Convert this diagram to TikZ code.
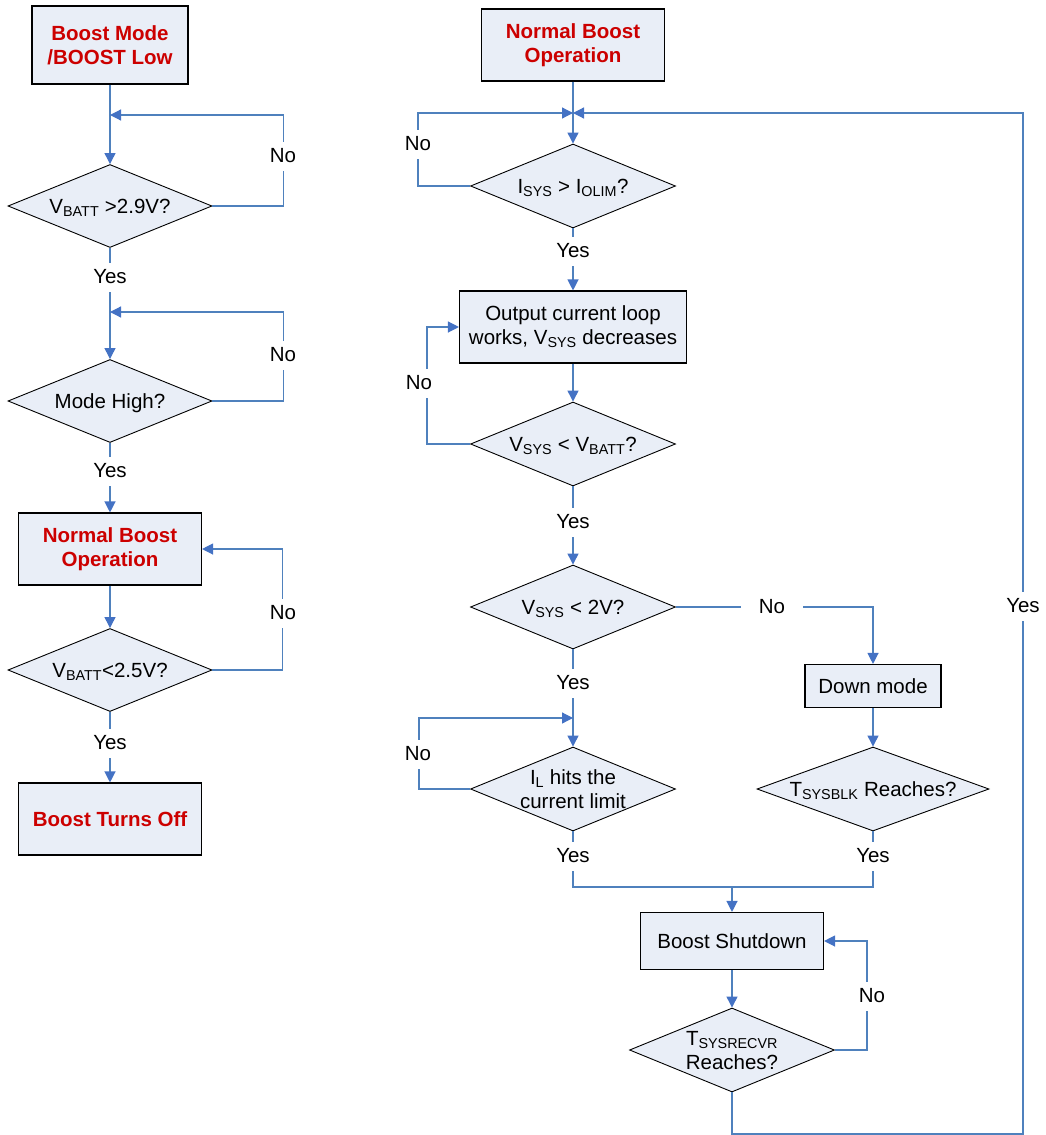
\documentclass[tikz,border=0pt]{standalone}
\usepackage{fontspec}
\setmainfont{Liberation Sans}
\usetikzlibrary{shapes.geometric, arrows.meta}
\definecolor{boxfill}{RGB}{233,238,247}
\definecolor{lineblue}{RGB}{79,129,189}
\definecolor{tipblue}{RGB}{68,114,196}
\definecolor{titlered}{RGB}{204,0,0}
\newcommand{\txt}{\fontsize{20.5}{24}\selectfont}
\newcommand{\dq}[1]{\makebox[0pt]{\raisebox{-7.5pt}[0pt][0pt]{\begin{tabular}{@{}c@{}}#1\end{tabular}}}}
\tikzset{
    proc/.style={rectangle, draw=black, fill=boxfill, line width=1.1pt, inner sep=0pt, align=center, font=\txt},
    hdr/.style={proc, text=titlered, font={\txt\bfseries}},
    cond/.style={diamond, draw=black, fill=boxfill, line width=0.9pt, inner sep=0pt, minimum width=205pt, minimum height=84pt, font=\txt},
    flow/.style={draw=lineblue, line width=1.2pt, -{Triangle[length=11pt, width=11pt, color=tipblue]}},
    link/.style={draw=lineblue, line width=1.2pt},
    lbl/.style={fill=white, inner sep=0pt, minimum width=62pt, minimum height=29pt, font=\txt}
}

\begin{document}
\begin{tikzpicture}[x=1pt, y=-1pt]
    \useasboundingbox (0,0) rectangle (1045,1135);
    % left column
    \node[hdr, minimum width=156pt, minimum height=78pt] (bm) at (110,45) {Boost Mode\\/BOOST Low};
    \node[cond, minimum width=204pt, minimum height=83pt] (q1) at (110,206) {\dq{V\textsubscript{BATT} >2.9V?}};
    \node[cond, minimum width=204pt, minimum height=83pt] (q2) at (110,401) {\dq{Mode High?}};
    \node[hdr, minimum width=183pt, minimum height=72pt] (nb) at (110,549) {Normal Boost\\Operation};
    \node[cond, minimum width=204pt, minimum height=83pt] (q3) at (110,670) {\dq{V\textsubscript{BATT}<2.5V?}};
    \node[hdr, minimum width=183pt, minimum height=72pt] (off) at (110,819) {Boost Turns Off};
    \coordinate (m1) at (110,115);
    \coordinate (m2) at (110,312);

    % right column
    \node[hdr, minimum width=183pt, minimum height=72pt] (nbo) at (573,45) {Normal Boost\\Operation};
    \node[cond] (q4) at (573,186) {\dq{I\textsubscript{SYS} > I\textsubscript{OLIM}?}};
    \node[proc, minimum width=227pt, minimum height=72pt] (ocl) at (573,327) {Output current loop\\works, V\textsubscript{SYS} decreases};
    \node[cond] (q5) at (573,444) {\dq{V\textsubscript{SYS} < V\textsubscript{BATT}?}};
    \node[cond] (q6) at (573,607) {\dq{V\textsubscript{SYS} < 2V?}};
    \node[cond] (q7) at (573,789) {\dq{I\textsubscript{L} hits the\\current limit}};
    \node[proc, minimum width=136pt, minimum height=43pt] (dm) at (873,686) {Down mode};
    \node[cond, minimum width=232pt] (q8) at (873,789) {\dq{T\textsubscript{SYSBLK} Reaches?}};
    \node[proc, minimum width=183pt, minimum height=57pt] (bs) at (732,941) {Boost Shutdown};
    \node[cond] (q9) at (732,1050) {\dq{T\textsubscript{SYSRECVR}\\Reaches?}};
    \coordinate (t1) at (573,113);
    \coordinate (t2) at (573,718);
    \coordinate (j) at (732,887);
    \coordinate (rb) at (1023,1134);

    \draw[flow] (bm) -- (q1);
    \draw[flow] (q1.east) -- ++(71,0) |- (m1);
    \draw[flow] (q1) -- (q2);
    \draw[flow] (q2.east) -- ++(71,0) |- (m2);
    \draw[flow] (q2) -- (nb);
    \draw[flow] (nb) -- (q3);
    \draw[flow] (q3.east) -- ++(70,0) |- (nb.east);
    \draw[flow] (q3) -- (off);

    \draw[flow] (nbo) -- (q4);
    \draw[flow] (q4.west) -- ++(-52,0) |- (t1);
    \draw[flow] (q4) -- (ocl);
    \draw[flow] (ocl) -- (q5);
    \draw[flow] (q5.west) -- ++(-43,0) |- (ocl.west);
    \draw[flow] (q5) -- (q6);
    \draw[flow] (q6.east) -| (dm);
    \draw[flow] (q6) -- (q7);
    \draw[flow] (q7.west) -- ++(-51,0) |- (t2);
    \draw[flow] (dm) -- (q8);
    \draw[link] (q7.south) |- (j);
    \draw[link] (q8.south) |- (j);
    \draw[flow] (j) -- (bs);
    \draw[flow] (bs) -- (q9);
    \draw[flow] (q9.east) -- ++(32,0) |- (bs.east);
    \draw[flow] (q9.south) |- (rb) |- (t1);

    \node[lbl] (n1) at (283,156) {No};
    \node[lbl] (y1) at (110,277) {Yes};
    \node[lbl] (n2) at (283,355) {No};
    \node[lbl] (y2) at (110,471) {Yes};
    \node[lbl] (n3) at (283,613) {No};
    \node[lbl] (y3) at (110,743) {Yes};
    \node[lbl] (n4) at (418,144) {No};
    \node[lbl] (y4) at (573,251) {Yes};
    \node[lbl] (n5) at (419,383) {No};
    \node[lbl] (y5) at (573,522) {Yes};
    \node[lbl] (n6) at (772,607) {No};
    \node[lbl] (y6) at (573,683) {Yes};
    \node[lbl] (n7) at (418,754) {No};
    \node[lbl] (y7) at (573,856) {Yes};
    \node[lbl] (y8) at (873,856) {Yes};
    \node[lbl] (n8) at (872,996) {No};
    \node[lbl] (y9) at (1023,606) {Yes};
\end{tikzpicture}
\end{document}
